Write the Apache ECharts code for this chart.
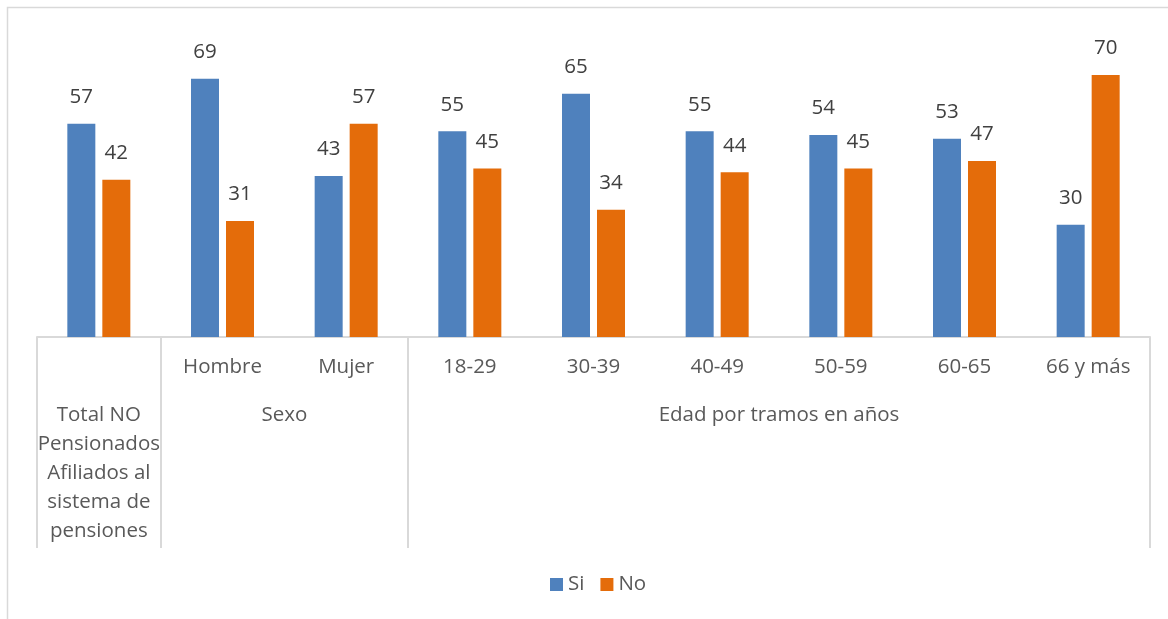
<!DOCTYPE html>
<html>
<head>
<meta charset="utf-8">
<script src="https://cdn.jsdelivr.net/npm/echarts@6/dist/echarts.min.js"></script>
<style>
  html, body { margin: 0; padding: 0; background: #fff; }
  #chart { width: 1168px; height: 619px; }
</style>
</head>
<body>
<div id="chart"></div>
<script>
// categorias del primer nivel (vacía para el total)
const categorias = ['', 'Hombre', 'Mujer', '18-29', '30-39', '40-49', '50-59', '60-65', '66 y más'];
// grupos del segundo nivel: texto y posición en medias categorías
const grupos = ['Total NO\nPensionados\nAfiliados al\nsistema de\npensiones', 'Sexo', 'Edad por tramos en años'];
const gruposPos = [1, 4, 12];
const separadores = [0, 2, 6, 18];
const si = [57, 69, 43, 55, 65, 55, 54, 53, 30];
const no = [42, 31, 57, 45, 34, 44, 45, 47, 70];

const fuente = 'Open Sans';
const gris = '#d9d9d9';
const tam = 20.5;

// eje auxiliar con 19 puntos (bordes de medias categorías)
const medios = [];
for (let i = 0; i <= 18; i++) {
  const k = gruposPos.indexOf(i);
  medios.push(k >= 0 ? grupos[k] : 'x' + i);
}

const chart = echarts.init(document.getElementById('chart'));
chart.setOption({
  backgroundColor: '#ffffff',
  textStyle: { fontFamily: fuente },
  graphic: [{
    type: 'rect',
    shape: { x: 7.5, y: 7.5, width: 1300, height: 800 },
    style: { fill: 'none', stroke: gris, lineWidth: 1.5 },
    silent: true
  }],
  legend: {
    data: ['Si', 'No'],
    left: 545,
    top: 569,
    icon: 'rect',
    itemWidth: 13,
    itemHeight: 13,
    itemGap: 16,
    textStyle: { fontSize: tam, color: '#595959', fontFamily: fuente }
  },
  grid: { left: 37, right: 18, top: 37.6, bottom: 282, containLabel: false },
  xAxis: [{
    type: 'category',
    data: categorias,
    axisLine: { lineStyle: { color: gris, width: 2 } },
    axisTick: { show: false },
    axisLabel: {
      interval: 0,
      margin: 16,
      fontSize: tam,
      lineHeight: 29,
      color: '#595959',
      fontFamily: fuente
    }
  }, {
    type: 'category',
    position: 'bottom',
    data: medios,
    boundaryGap: false,
    axisLine: { show: false },
    axisTick: {
      show: true,
      length: 211,
      interval: function (i) { return separadores.indexOf(i) >= 0; },
      lineStyle: { color: gris, width: 2 }
    },
    axisLabel: {
      interval: 0,
      margin: 64,
      fontSize: tam,
      lineHeight: 29,
      color: '#595959',
      fontFamily: fuente,
      formatter: function (v, i) { return gruposPos.indexOf(i) >= 0 ? v : ''; }
    }
  }],
  yAxis: {
    type: 'value',
    min: 0,
    max: 80,
    show: false,
    splitLine: { show: false }
  },
  series: [{
    name: 'Si',
    type: 'bar',
    data: si,
    barWidth: 28,
    barGap: '25%',
    itemStyle: { color: '#4f81bd' },
    label: { show: true, position: 'top', distance: 16, fontSize: tam, color: '#404040', fontFamily: fuente }
  }, {
    name: 'No',
    type: 'bar',
    data: no,
    barWidth: 28,
    barGap: '25%',
    itemStyle: { color: '#e46c0a' },
    label: { show: true, position: 'top', distance: 16, fontSize: tam, color: '#404040', fontFamily: fuente }
  }]
});
</script>
</body>
</html>
